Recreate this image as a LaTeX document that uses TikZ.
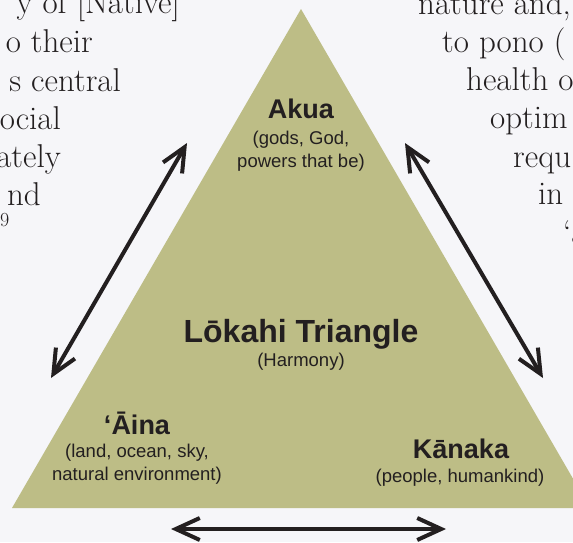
\documentclass[tikz,border=0pt]{standalone}
\usepackage{fontspec}
\usetikzlibrary{arrows.meta}
\newfontfamily\labelfont{Liberation Sans}
\definecolor{paper}{RGB}{246,246,249}
\definecolor{lokahi}{RGB}{189,189,134}
\definecolor{ink}{RGB}{35,31,32}
\tikzset{
	corner/.style={font=\labelfont\bfseries\fontsize{27}{30}\selectfont,text=ink,inner sep=0pt,anchor=base},
	gloss/.style={font=\labelfont\fontsize{18.5}{22}\selectfont,text=ink,inner sep=0pt,anchor=base},
	side/.style={font=\fontsize{33}{38}\selectfont,text=ink,inner sep=0pt},
	link/.style={<->,line width=4pt,draw=ink}
}
\begin{document}
\begin{tikzpicture}[x=1pt,y=-1pt,>={Straight Barb[length=24pt,width=22pt]}]
	\fill[paper] (0,0) rectangle (573,542);
	\useasboundingbox (0,0) rectangle (573,542);
	\clip (0,0) rectangle (573,542);
	% text of the page on both sides
	\foreach \txt/\xx/\yy [count=\i] in {{y of [Native]}/180/13,{o their}/93/52,{s central}/121/91,{ocial}/61/129,{ately}/61/167,{nd}/41/205}
		\node[side,anchor=base east] (left\i) at (\xx,\yy) {\txt};
	\node[side,anchor=base west,font=\fontsize{20}{24}\selectfont] (note) at (0,226) {9};
	\foreach \txt/\xx/\yy [count=\i] in {{nature and,}/418/14,{to pono (}/442/52,{health o}/466/90,{optim}/490/128,{requ}/513/167,{in}/538/204,{‘ā}/563/243}
		\node[side,anchor=base west] (right\i) at (\xx,\yy) {\txt};
	% the triangle
	\fill[lokahi] (301,9) -- (12,508) -- (590,508) -- cycle;
	\node[corner] (akua) at (301,118) {Akua};
	\node[gloss] (akua1) at (301,144) {(gods, God,};
	\node[gloss] (akua2) at (301,167) {powers that be)};
	\node[corner,font=\labelfont\bfseries\fontsize{32}{36}\selectfont] (lokahi) at (301,342) {Lōkahi Triangle};
	\node[gloss] (harmony) at (301,366) {(Harmony)};
	\node[corner] (aina) at (137,434) {‘Āina};
	\node[gloss] (aina1) at (137,457) {(land, ocean, sky,};
	\node[gloss] (aina2) at (137,480) {natural environment)};
	\node[corner] (kanaka) at (461,458) {Kānaka};
	\node[gloss] (kanaka1) at (460,482) {(people, humankind)};
	% arrows round it
	\coordinate (l1) at (187,143); \coordinate (l2) at (51,378);
	\coordinate (r1) at (405,143); \coordinate (r2) at (543,378);
	\coordinate (b1) at (171,529); \coordinate (b2) at (446,529);
	\draw[link] (l1) -- (l2);
	\draw[link] (r1) -- (r2);
	\draw[link] (b1) -- (b2);
\end{tikzpicture}
\end{document}
